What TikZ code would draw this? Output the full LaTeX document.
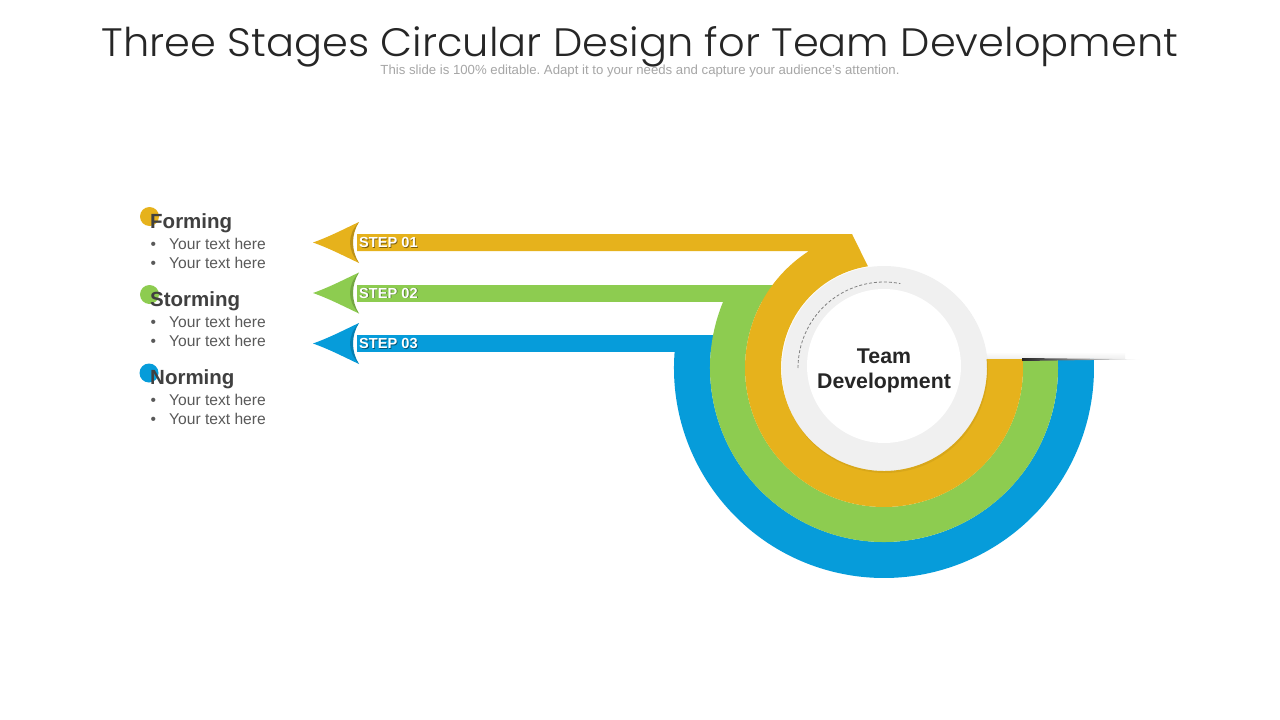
\documentclass[tikz,border=0pt]{standalone}
\usepackage{fontspec}
\setmainfont{Liberation Sans}
\newfontfamily\titlefont{Poppins Light}
\usetikzlibrary{shadings}
\definecolor{cgold}{RGB}{230,178,28}
\definecolor{cgreen}{RGB}{141,204,80}
\definecolor{cblue}{RGB}{6,156,218}
\definecolor{cgrey}{RGB}{240,240,240}
\definecolor{headtxt}{RGB}{64,64,64}
\definecolor{bodytxt}{RGB}{89,89,89}
\tikzset{
  arrowhead/.pic={
    \fill (0,0) .. controls (17,-6) and (32,-14) .. (46,-20.5)
          .. controls (38,-8) and (38,8) .. (46,20.5)
          .. controls (32,14) and (17,6) .. (0,0) -- cycle;
    \fill[black,opacity=0.18] (46,-20.5) .. controls (38,-8) and (38,8) .. (46,20.5)
          .. controls (34,8) and (34,-8) .. (46,-20.5) -- cycle;
  },
  steplabel/.style={anchor=west,inner sep=0pt,text=white,font=\bfseries\fontsize{14.6}{15}\selectfont},
  stepshadow/.style={anchor=west,inner sep=0pt,text=black,opacity=0.45,font=\bfseries\fontsize{14.6}{15}\selectfont},
  stagehead/.style={anchor=base west,inner sep=0pt,text=headtxt,font=\bfseries\fontsize{20.5}{22}\selectfont},
  bullettxt/.style={anchor=base west,inner sep=0pt,text=bodytxt,font=\fontsize{15.6}{17}\selectfont},
  dot/.style={circle,inner sep=0pt,minimum size=19pt},
}
\newcommand{\bul}{\makebox[18.5pt][l]{\textbullet}Your text here}
\begin{document}
\begin{tikzpicture}[x=1pt,y=-1pt]
\useasboundingbox (0,0) rectangle (1280,720);
\fill[white] (0,0) rectangle (1280,720);

% title
\node[anchor=base,inner sep=0pt,text=black!85] (title) at (640,56)
  {\resizebox{1076pt}{30pt}{\titlefont Three Stages Circular Design for Team Development}};
\node[anchor=base,inner sep=0pt,text=black!35] (subtitle) at (640,74.5)
  {\resizebox{519pt}{!}{\frenchspacing This slide is 100\% editable. Adapt it to your needs and capture your audience's attention.}};

% blue ring and bar
\fill[cblue] (357,335) rectangle (720,352);
\fill[cblue] ([shift={(189.04:210)}]884,368) arc[start angle=189.04, end angle=-2.46, radius=210]
  -- ([shift={(-2.96:174)}]884,368) arc[start angle=-2.96, end angle=190.93, radius=174] -- cycle;
% green ring and bar
\fill[cgreen] (357,285) rectangle (790,302);
\fill[cgreen] ([shift={(208.49:174)}]884,368) arc[start angle=208.49, end angle=-2.96, radius=174]
  -- ([shift={(-3.71:139)}]884,368) arc[start angle=-3.71, end angle=216.66, radius=139] -- cycle;
% gold ring and bar
\fill[cgold] (357,234) -- (852,234) -- ([shift={(261:103)}]884,368)
  arc[start angle=261, end angle=-5.01, radius=103]
  -- ([shift={(-3.71:139)}]884,368) arc[start angle=-3.71, end angle=237.3, radius=139]
  -- (357,251) -- cycle;

% shadow line at right
\shade[top color=white, bottom color=black!12,opacity=0.5] (987,352) rectangle (1125,358.6);
\shade[left color=black!85, right color=white] (1022,358) -- (1140,359.3) -- (1022,361) -- cycle;

% arrow heads
\pic[fill=cgold] at (313,242.5) {arrowhead};
\pic[fill=cgreen] at (313,293) {arrowhead};
\pic[fill=cblue] at (313,343.5) {arrowhead};

% step labels
\node[stepshadow] (s1s) at (359.8,243.3) {STEP 01};
\node[steplabel] (s1) at (359,242.5) {STEP 01};
\node[stepshadow] (s2s) at (359.8,293.8) {STEP 02};
\node[steplabel] (s2) at (359,293) {STEP 02};
\node[stepshadow] (s3s) at (359.8,344.3) {STEP 03};
\node[steplabel] (s3) at (359,343.5) {STEP 03};

% centre circle
\fill[black,opacity=0.06] (885,370) circle[radius=103];
\fill[cgrey] (884,368) circle[radius=102];
\fill[white] (884,366) circle[radius=77];
\draw[gray,line width=0.8pt,dash pattern=on 3pt off 2pt]
  ([shift={(180:86)}]884,368) arc[start angle=180, end angle=281, radius=86];
\node[align=center,inner sep=0pt,text=black!85,font=\bfseries\fontsize{21.3}{25}\selectfont] (centre) at (884,371)
  {Team\\Development};

% legend
\node[dot,fill=cgold] (d1) at (149.5,216.5) {};
\node[dot,fill=cgreen] (d2) at (149.5,294.5) {};
\node[dot,fill=cblue] (d3) at (149,373) {};
\node[stagehead] (h1) at (150,228) {Forming};
\node[bullettxt] (b11) at (150.5,249.5) {\bul};
\node[bullettxt] (b12) at (150.5,268.5) {\bul};
\node[stagehead] (h2) at (150,306) {Storming};
\node[bullettxt] (b21) at (150.5,327.5) {\bul};
\node[bullettxt] (b22) at (150.5,346.5) {\bul};
\node[stagehead] (h3) at (150,384) {Norming};
\node[bullettxt] (b31) at (150.5,405) {\bul};
\node[bullettxt] (b32) at (150.5,424) {\bul};
\end{tikzpicture}
\end{document}
